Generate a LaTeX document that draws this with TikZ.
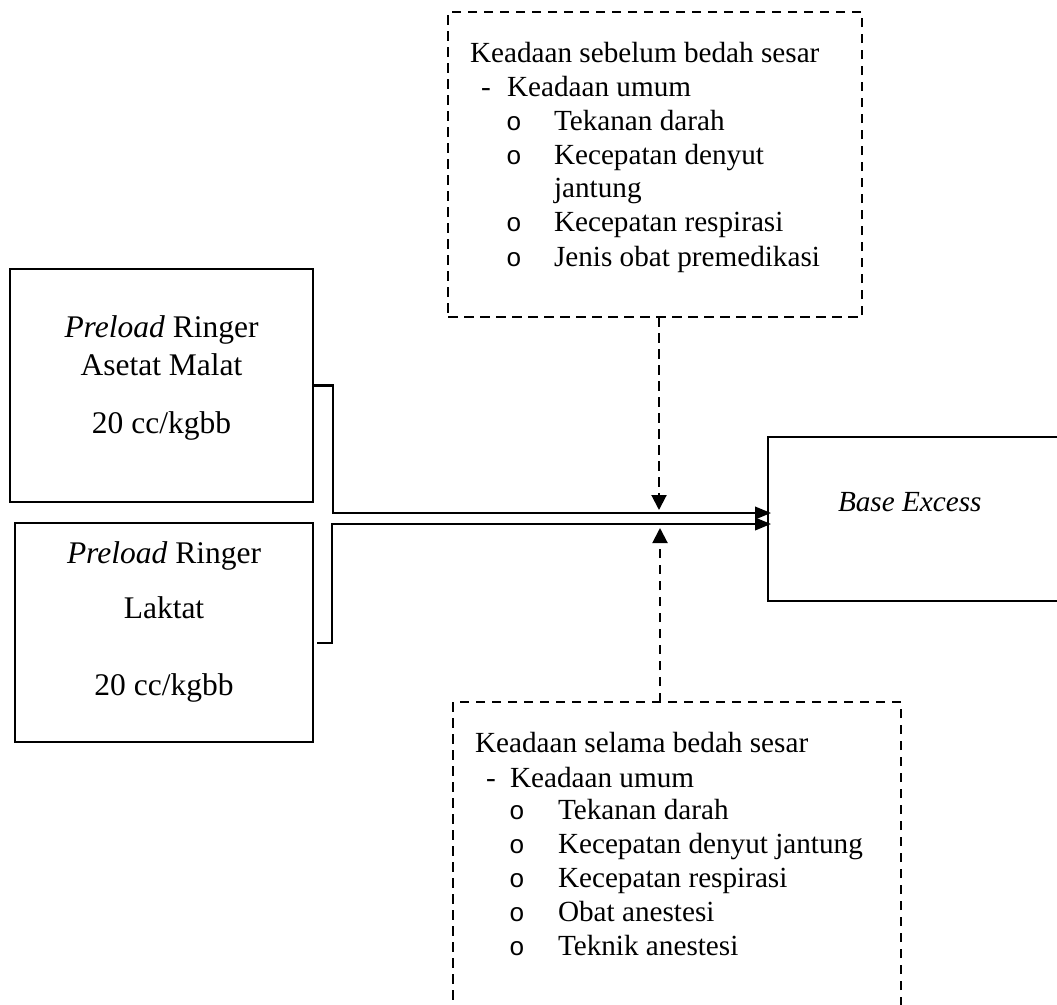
\documentclass[tikz,border=0pt]{standalone}
\usepackage{fontspec}
\setmainfont{Liberation Serif}
\newfontfamily\bulletfont{Liberation Mono}
\usetikzlibrary{arrows.meta}
\newcommand\bodysize{\fontsize{29.2}{34}\selectfont}
\newcommand\leftsize{\fontsize{31.5}{37}\selectfont}
\newcommand\bulsize{\fontsize{26}{30}\selectfont}
\begin{document}
\begin{tikzpicture}[x=1pt,y=-1pt,
  box/.style={draw, line width=2.2pt, inner sep=0pt, outer sep=0pt, anchor=north west},
  dbox/.style={box, line width=2pt, dash pattern=on 9.5pt off 6.5pt},
  txt/.style={inner sep=0pt, outer sep=0pt, anchor=base west, font=\bodysize},
  ltxt/.style={inner sep=0pt, outer sep=0pt, anchor=base, font=\leftsize},
  bul/.style={inner sep=0pt, outer sep=0pt, anchor=base west, font=\bulletfont\bulsize},
  conn/.style={line width=2.2pt, -{Triangle[length=16pt,width=12.5pt]}, shorten >=-3pt},
  dconn/.style={line width=2pt, dash pattern=on 9.5pt off 6.5pt, -{Triangle[length=15pt,width=15pt]}}
]
\useasboundingbox (0,0) rectangle (1057,1004);
\clip (0,0) rectangle (1057,1004);

% left boxes
\node[box, minimum width=303pt, minimum height=233pt] (b1) at (10,269) {};
\node[box, minimum width=298pt, minimum height=219pt] (b2) at (15,523) {};
\node[ltxt] (b1l1) at (161.5,337) {\textit{Preload} Ringer};
\node[ltxt] (b1l2) at (161.5,375) {Asetat Malat};
\node[ltxt] (b1l3) at (161.5,433) {20 cc/kgbb};
\node[ltxt] (b2l1) at (164,563) {\textit{Preload} Ringer};
\node[ltxt] (b2l2) at (164,618) {Laktat};
\node[ltxt] (b2l3) at (164,695) {20 cc/kgbb};

% Base Excess
\node[box, minimum width=302pt, minimum height=164pt] (be) at (768,437) {};
\node[txt] (bet) at (838,511) {\textit{Base Excess}};

% top dashed box
\node[dbox, minimum width=414pt, minimum height=305pt] (t) at (448,12) {};
\node[txt] (t1) at (470,62) {Keadaan sebelum bedah sesar};
\node[txt] (t2d) at (481,96) {-};
\node[txt] (t2) at (507,96) {Keadaan umum};
\node[bul] (t3b) at (506,130) {o};
\node[txt] (t3) at (554,130) {Tekanan darah};
\node[bul] (t4b) at (506,164) {o};
\node[txt] (t4) at (554,164) {Kecepatan denyut};
\node[txt] (t4c) at (554,197) {jantung};
\node[bul] (t5b) at (506,231) {o};
\node[txt] (t5) at (554,231) {Kecepatan respirasi};
\node[bul] (t6b) at (506,266) {o};
\node[txt] (t6) at (554,266) {Jenis obat premedikasi};

% bottom dashed box
\node[dbox, minimum width=448pt, minimum height=320pt] (bb) at (453,702) {};
\node[txt] (s1) at (475,752) {Keadaan selama bedah sesar};
\node[txt] (s2d) at (486,787) {-};
\node[txt] (s2) at (510,787) {Keadaan umum};
\node[bul] (s3b) at (509,819) {o};
\node[txt] (s3) at (558,819) {Tekanan darah};
\node[bul] (s4b) at (509,853) {o};
\node[txt] (s4) at (558,853) {Kecepatan denyut jantung};
\node[bul] (s5b) at (509,887) {o};
\node[txt] (s5) at (558,887) {Kecepatan respirasi};
\node[bul] (s6b) at (509,921) {o};
\node[txt] (s6) at (558,921) {Obat anestesi};
\node[bul] (s7b) at (509,955) {o};
\node[txt] (s7) at (558,955) {Teknik anestesi};

% connectors
\draw[conn] (b1.east) -- ++(20,0) |- ([yshift=6pt]be.west);
\draw[conn] ([xshift=4pt,yshift=-10.5pt]b2.east) -- ++(15,0) |- ([yshift=-5pt]be.west);

\coordinate (m1) at (659,510);
\coordinate (m2) at (660,528);
\draw[dconn] (t.south -| m1) -- (m1);
\draw[dconn] (bb.north -| m2) -- (m2);
\end{tikzpicture}
\end{document}
